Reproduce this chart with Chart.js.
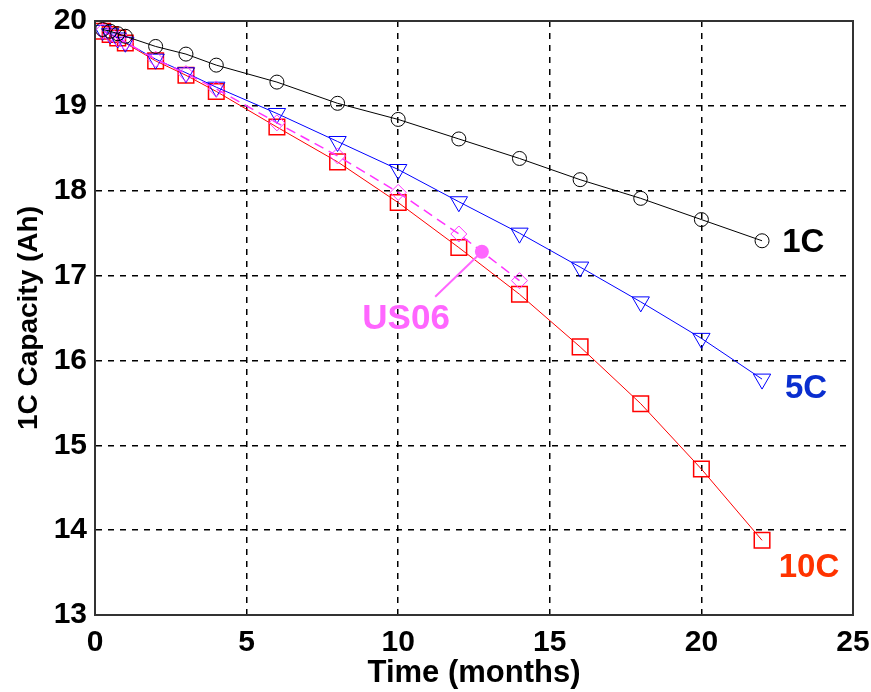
<!DOCTYPE html>
<html>
<head>
<meta charset="utf-8">
<script src="https://cdn.jsdelivr.net/npm/chart.js@4/dist/chart.umd.min.js"></script>
<style>
  html, body { margin: 0; padding: 0; background: #fff; }
  #wrap { width: 871px; height: 692px; }
</style>
</head>
<body>
<div id="wrap"><canvas id="capChart" width="871" height="692"></canvas></div>
<script>
// time axis (months) and capacity (Ah)
const months = [0.25, 0.5, 0.75, 1, 2, 3, 4, 6, 8, 10, 12, 14, 16, 18, 20, 22];
const cap1C  = [19.90, 19.88, 19.85, 19.82, 19.70, 19.61, 19.48, 19.28, 19.03, 18.84, 18.61, 18.38, 18.13, 17.91, 17.66, 17.41];
const cap5C  = [19.89, 19.85, 19.80, 19.75, 19.55, 19.39, 19.22, 18.91, 18.58, 18.25, 17.87, 17.50, 17.10, 16.69, 16.26, 15.78];
const cap10C = [19.88, 19.84, 19.80, 19.74, 19.53, 19.36, 19.17, 18.75, 18.34, 17.86, 17.33, 16.78, 16.16, 15.49, 14.72, 13.88];
const monthsUS06 = [0.25, 0.5, 0.75, 1, 2, 3, 4, 6, 8, 10, 12, 14];
const capUS06    = [19.88, 19.84, 19.79, 19.75, 19.55, 19.38, 19.20, 18.80, 18.41, 17.98, 17.49, 16.94];

const xTicks = [0, 5, 10, 15, 20, 25];
const yTicks = [13, 14, 15, 16, 17, 18, 19, 20];

function toPoints(xs, ys) {
  return xs.map((x, i) => ({ x: x, y: ys[i] }));
}

// text labels + US06 pointer, placed in data units
const notes = [
  { text: '1C',   x: 23.36, y: 17.38, color: '#000000' },
  { text: '5C',   x: 23.45, y: 15.66, color: '#0a2ecf' },
  { text: '10C',  x: 23.55, y: 13.55, color: '#ff3300' },
  { text: 'US06', x: 10.26, y: 16.48, color: '#ff66ff' }
];
const pointer = { from: { x: 11.22, y: 16.75 }, to: { x: 12.76, y: 17.28 }, color: '#ff66ff' };

const notesPlugin = {
  id: 'notes',
  afterDraw(chart) {
    const ctx = chart.ctx;
    const xs = chart.scales.x, ys = chart.scales.y;
    const a = chart.chartArea;
    ctx.save();
    // full box round the plot
    ctx.strokeStyle = '#333';
    ctx.lineWidth = 2;
    ctx.strokeRect(a.left, a.top, a.right - a.left, a.bottom - a.top);

    // pointer line + dot
    ctx.strokeStyle = pointer.color;
    ctx.lineWidth = 2;
    ctx.beginPath();
    ctx.moveTo(xs.getPixelForValue(pointer.from.x), ys.getPixelForValue(pointer.from.y));
    ctx.lineTo(xs.getPixelForValue(pointer.to.x), ys.getPixelForValue(pointer.to.y));
    ctx.stroke();
    ctx.fillStyle = pointer.color;
    ctx.beginPath();
    ctx.arc(xs.getPixelForValue(pointer.to.x), ys.getPixelForValue(pointer.to.y), 7, 0, Math.PI * 2);
    ctx.fill();

    ctx.textAlign = 'center';
    ctx.textBaseline = 'middle';
    notes.forEach(n => {
      ctx.font = n.text === 'US06' ? 'bold 35px "Liberation Sans", Arial, sans-serif' : 'bold 33px "Liberation Sans", Arial, sans-serif';
      ctx.fillStyle = n.color;
      ctx.fillText(n.text, xs.getPixelForValue(n.x), ys.getPixelForValue(n.y));
    });
    ctx.restore();
  }
};

const ctx = document.getElementById('capChart').getContext('2d');
const capChart = new Chart(ctx, {
  type: 'scatter',
  data: {
    datasets: [
      {
        label: '1C',
        data: toPoints(months, cap1C),
        showLine: true,
        borderColor: '#000000',
        borderWidth: 1,
        pointStyle: 'circle',
        pointRadius: 7,
        pointBorderWidth: 1,
        pointBorderColor: '#000000',
        pointBackgroundColor: 'transparent'
      },
      {
        label: 'US06',
        data: toPoints(monthsUS06, capUS06),
        showLine: true,
        borderColor: '#ff33ff',
        borderWidth: 1.5,
        borderDash: [10, 6],
        pointStyle: 'rectRot',
        pointRadius: 8,
        pointBorderWidth: 1,
        pointBorderColor: '#ff33ff',
        pointBackgroundColor: 'transparent'
      },
      {
        label: '5C',
        data: toPoints(months, cap5C),
        showLine: true,
        borderColor: '#0000ff',
        borderWidth: 1,
        pointStyle: 'triangle',
        pointRotation: 180,
        pointRadius: 10,
        pointBorderWidth: 1,
        pointBorderColor: '#0000ff',
        pointBackgroundColor: 'transparent'
      },
      {
        label: '10C',
        data: toPoints(months, cap10C),
        showLine: true,
        borderColor: '#ff0000',
        borderWidth: 1,
        pointStyle: 'rect',
        pointRadius: 11,
        pointBorderWidth: 1.5,
        pointBorderColor: '#ff0000',
        pointBackgroundColor: 'transparent'
      }
    ]
  },
  options: {
    responsive: false,
    animation: false,
    events: [],
    layout: { padding: { top: 21, right: 18, left: 0, bottom: 0 } },
    plugins: {
      legend: { display: false },
      tooltip: { enabled: false }
    },
    scales: {
      x: {
        type: 'linear',
        min: 0,
        max: 25,
        afterBuildTicks: s => { s.ticks = xTicks.map(v => ({ value: v })); },
        afterFit: s => { s.height = 77; s.paddingLeft = 0; s.paddingRight = 0; },
        grid: { color: '#000', lineWidth: 1.5, drawTicks: false },
        border: { display: true, color: '#333', width: 2, dash: [6, 6] },
        ticks: {
          color: '#000',
          padding: 10,
          maxRotation: 0,
          font: { family: '"Liberation Sans", Arial, sans-serif', size: 30, weight: 'bold' }
        },
        title: {
          display: true,
          text: 'Time (months)',
          color: '#000',
          padding: { top: 0, bottom: 0 },
          font: { family: '"Liberation Sans", Arial, sans-serif', size: 31, weight: 'bold' }
        }
      },
      y: {
        type: 'linear',
        min: 13,
        max: 20,
        afterBuildTicks: s => { s.ticks = yTicks.map(v => ({ value: v })); },
        afterFit: s => { s.width = 95; s.paddingTop = 0; s.paddingBottom = 0; },
        grid: { color: '#000', lineWidth: 1.5, drawTicks: false },
        border: { display: true, color: '#333', width: 2, dash: [6, 6] },
        ticks: {
          color: '#000',
          padding: 8,
          font: { family: '"Liberation Sans", Arial, sans-serif', size: 30, weight: 'bold' }
        },
        title: {
          display: true,
          text: '1C Capacity (Ah)',
          color: '#000',
          padding: { top: 12, bottom: 0 },
          font: { family: '"Liberation Sans", Arial, sans-serif', size: 28, weight: 'bold' }
        }
      }
    }
  },
  plugins: [notesPlugin]
});
</script>
</body>
</html>
